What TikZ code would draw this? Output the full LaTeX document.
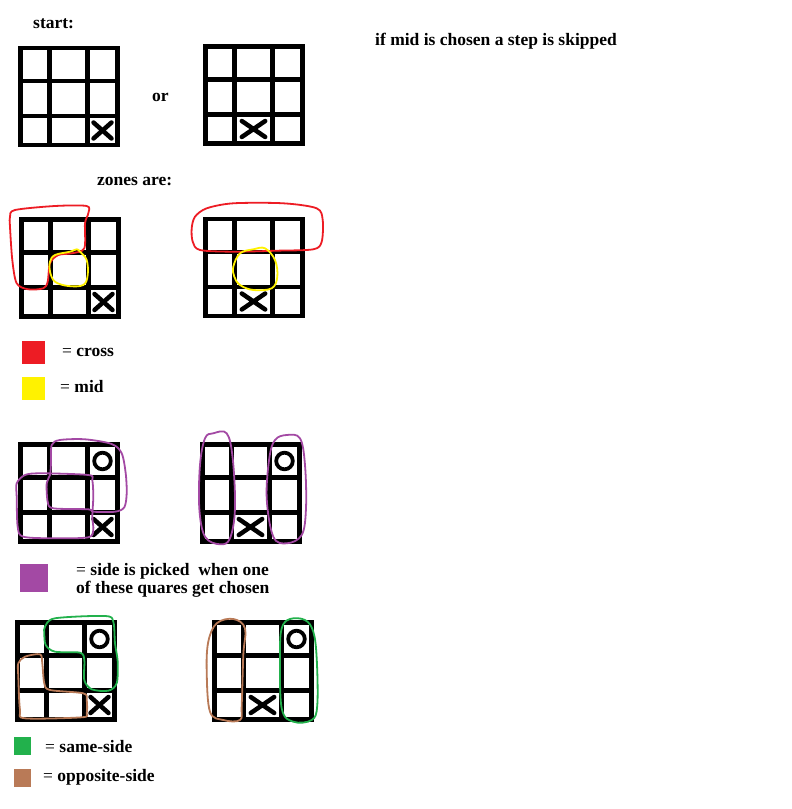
\documentclass[tikz,border=0pt]{standalone}
\usepackage{fontspec}
\setmainfont{Liberation Serif}
\usetikzlibrary{positioning}
\definecolor{zonered}{RGB}{237,28,36}
\definecolor{zoneyellow}{RGB}{255,242,0}
\definecolor{zonepurple}{RGB}{163,73,164}
\definecolor{zonegreen}{RGB}{34,177,76}
\definecolor{zonebrown}{RGB}{185,122,87}
\tikzset{
  note/.style={anchor=base west, inner sep=0pt, font=\bfseries\fontsize{17.5}{20}\selectfont},
  zoneline/.style={line width=1.8pt, line join=round},
  keybox/.style={anchor=north west, inner sep=0pt, minimum width=23pt, minimum height=23pt},
  board/.pic={
    \draw[line width=4.5pt] (0,0) rectangle (97,97);
    \draw[line width=4.5pt] (29,0) -- (29,97) (67,0) -- (67,97) (0,33) -- (97,33) (0,68) -- (97,68);
    \coordinate (-c13) at (82,16.5);
    \coordinate (-c32) at (48,82.5);
    \coordinate (-c33) at (82,82.5);
  },
  xmark/.pic={\draw[line width=4.5pt, line cap=round] (-9,-8) -- (9,8) (-9,8) -- (9,-8);},
  omark/.pic={\draw[line width=3.8pt] (0,0) circle[radius=8.3];}
}
\begin{document}
\begin{tikzpicture}[x=1pt, y=-1pt]
\useasboundingbox[fill=white] (0,0) rectangle (792,809);
% start
\node[note] (start) at (33,28) {start:};
\pic (g1) at (20.5,48) {board};
\pic at (g1-c33) {xmark};
\node[note] (or) at (152,101) {or};
\pic (g2) at (205.5,46.5) {board};
\pic[xscale=1.3] at (g2-c32) {xmark};
\node[note] (skip) at (375,45) {if mid is chosen a step is skipped};
% zones
\node[note] (zones) at (97,185) {zones are:};
\pic (g3) at (21.5,219.5) {board};
\pic at (g3-c33) {xmark};
\pic (g4) at (205.5,219) {board};
\pic[xscale=1.3] at (g4-c32) {xmark};
\draw[zoneline, zonered] plot[smooth cycle, tension=0.5] coordinates {(10,216.7) (15,210) (55,206) (86.7,206) (88.3,213.3) (85,223.3) (84.3,248.3) (71.7,253.3) (58.3,255) (50,263.3) (47.7,281.7) (43.3,288.3) (28.3,289.3) (16.7,283.3) (12.3,260) (10,226.7)};
\draw[zoneline, zoneyellow] plot[smooth cycle, tension=0.6] coordinates {(50,261.7) (55,255) (70,251.7) (76.7,249.3) (80,251.7) (86.7,260) (87.7,275) (83.3,285) (68.3,286) (55,281.7) (50,271.7)};
\draw[zoneline, zonered] plot[smooth cycle, tension=0.5] coordinates {(191.7,228.3) (195,216.7) (206.7,208.3) (233.3,203.3) (283.3,203.3) (316.7,208.3) (322.7,220) (321.7,241.7) (313.3,249.3) (276.7,250.7) (233.3,251.7) (200,250) (192.7,241.7)};
\draw[zoneline, zoneyellow] plot[smooth cycle, tension=0.6] coordinates {(233.3,266.7) (240,253.3) (253.3,249.3) (265,248.3) (275,260) (277.3,276.7) (271.7,288.3) (253.3,290) (240,285) (234.3,276.7)};
\node[keybox, fill=zonered] (redkey) at (22,341) {};
\node[note] (cross) at (62,356) {{\mdseries =} cross};
\node[keybox, fill=zoneyellow] (yellowkey) at (22,377) {};
\node[note] (mid) at (60,392.5) {{\mdseries =} mid};
% sides
\pic (g5) at (20.5,444.5) {board};
\pic at (g5-c13) {omark};
\pic at (g5-c33) {xmark};
\pic (g6) at (202.5,444.5) {board};
\pic at (g6-c13) {omark};
\pic[xscale=1.3] at (g6-c32) {xmark};
\draw[zoneline, zonepurple] plot[smooth cycle, tension=0.5] coordinates {(51.7,445) (60,440) (85,439.3) (111.7,444) (121.7,453.3) (125.7,473.3) (126.7,493.3) (124.3,507.3) (115,511.7) (93.3,511.7) (88.3,509.3) (53.3,508.3) (47.7,501.7) (46.7,483.3) (50,475) (51,463.3)};
\draw[zoneline, zonepurple] plot[smooth cycle, tension=0.5] coordinates {(16.7,483.3) (25,475) (41.7,473.3) (88.3,475) (92.3,480) (93.3,496.7) (92.3,516.7) (93.3,530) (88.3,537.3) (55,538.3) (23.3,536.7) (17.7,526.7) (16.7,496.7)};
\draw[zoneline, zonepurple] plot[smooth cycle, tension=0.6] coordinates {(213.3,433.3) (226.7,433.3) (232.7,458.3) (235,508.3) (230,538.3) (220,544.3) (205,536.7) (199.3,508.3) (200,465) (205,438.3)};
\draw[zoneline, zonepurple] plot[smooth cycle, tension=0.6] coordinates {(286.7,435) (300,438.3) (305,465) (306,508.3) (301.7,535) (286.7,543.3) (273.3,536.7) (266.7,498.3) (269.3,458.3) (275,440)};
\node[keybox, fill=zonepurple, minimum width=28pt, minimum height=28pt] (purplekey) at (20,564) {};
\node[note] (picked) at (76,575) {{\mdseries =} side is picked\ \ when one};
\node[note] (chosen) at (76,593) {of these quares get chosen};
% same / opposite
\pic (g7) at (17.5,622.5) {board};
\pic at (g7-c13) {omark};
\pic at (g7-c33) {xmark};
\pic (g8) at (214.5,622.5) {board};
\pic at (g8-c13) {omark};
\pic[xscale=1.3] at (g8-c32) {xmark};
\draw[zoneline, zonegreen] plot[smooth cycle, tension=0.5] coordinates {(45,626.7) (55,618.3) (105,616) (113.3,621.7) (115,643.3) (117.7,661.7) (116.7,683.3) (108.3,690.7) (91.7,689.3) (84.3,680) (84.3,660) (80,652.7) (55,651.7) (45.7,645) (44.3,633.3)};
\draw[zoneline, zonebrown] plot[smooth cycle, tension=0.5] coordinates {(18.3,663.3) (25,656.7) (40,654.3) (42.3,663.3) (44.3,683.3) (50,690) (83.3,693.3) (86.7,700) (86.7,713.3) (81.7,717.3) (25,718.3) (20,710) (18.3,676.7)};
\draw[zoneline, zonebrown] plot[smooth cycle, tension=0.6] coordinates {(216.7,623.3) (233.3,619) (245,628.3) (243.3,655) (241.7,705) (240,720) (223.3,720) (210,711.7) (206.7,671.7) (208.3,641.7)};
\draw[zoneline, zonegreen] plot[smooth cycle, tension=0.6] coordinates {(290,619) (305,620) (313.3,631.7) (316.7,658.3) (317.3,705) (311.7,720) (293.3,721.7) (281.7,708.3) (280,655) (281.7,628.3)};
\node[keybox, fill=zonegreen, minimum width=17pt, minimum height=18pt] (greenkey) at (14,737) {};
\node[note] (same) at (45,752.5) {{\mdseries =} same-side};
\node[keybox, fill=zonebrown, minimum width=17pt, minimum height=18pt] (brownkey) at (14,769) {};
\node[note] (opposite) at (43,781.5) {{\mdseries =} opposite-side};
\end{tikzpicture}
\end{document}
